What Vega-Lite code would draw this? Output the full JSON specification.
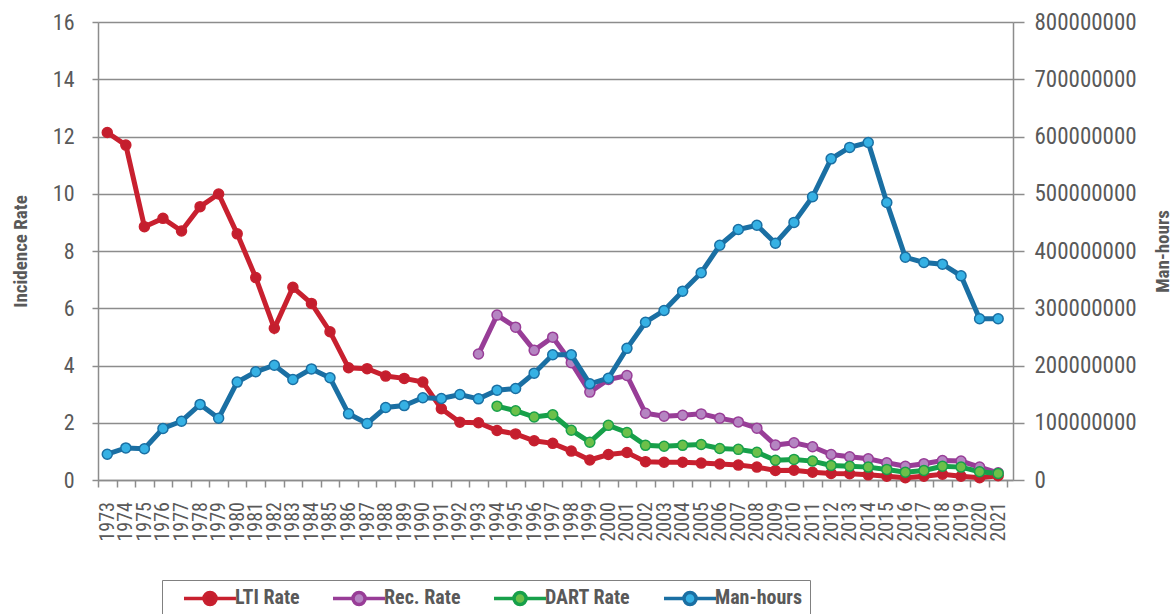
{
  "$schema": "https://vega.github.io/schema/vega-lite/v6.json",
  "width": 915,
  "height": 458,
  "autosize": {"type": "none"},
  "padding": {"left": 98, "top": 22, "right": 163, "bottom": 134},
  "background": "white",
  "config": {
    "font": "Liberation Sans Narrow, Roboto Condensed, DejaVu Sans Condensed, sans-serif",
    "view": {"stroke": null},
    "axis": {
      "labelFont": "Liberation Sans Narrow, Roboto Condensed, DejaVu Sans Condensed, sans-serif",
      "titleFont": "Liberation Sans Narrow, Roboto Condensed, DejaVu Sans Condensed, sans-serif",
      "labelColor": "#595959",
      "titleColor": "#595959",
      "domainColor": "#8c8c8c",
      "domainWidth": 1.5,
      "tickColor": "#8c8c8c",
      "tickWidth": 1.5,
      "gridColor": "#8c8c8c",
      "gridWidth": 1.5,
      "labelFlush": false,
      "labelOverlap": false
    }
  },
  "datasets": {
    "rates": [
      {"year": 1973, "series": "LTI Rate", "value": 12.14},
      {"year": 1974, "series": "LTI Rate", "value": 11.7},
      {"year": 1975, "series": "LTI Rate", "value": 8.85},
      {"year": 1976, "series": "LTI Rate", "value": 9.14},
      {"year": 1977, "series": "LTI Rate", "value": 8.7},
      {"year": 1978, "series": "LTI Rate", "value": 9.55},
      {"year": 1979, "series": "LTI Rate", "value": 9.99},
      {"year": 1980, "series": "LTI Rate", "value": 8.6},
      {"year": 1981, "series": "LTI Rate", "value": 7.07},
      {"year": 1982, "series": "LTI Rate", "value": 5.3},
      {"year": 1983, "series": "LTI Rate", "value": 6.73},
      {"year": 1984, "series": "LTI Rate", "value": 6.17},
      {"year": 1985, "series": "LTI Rate", "value": 5.18},
      {"year": 1986, "series": "LTI Rate", "value": 3.92},
      {"year": 1987, "series": "LTI Rate", "value": 3.89},
      {"year": 1988, "series": "LTI Rate", "value": 3.63},
      {"year": 1989, "series": "LTI Rate", "value": 3.55},
      {"year": 1990, "series": "LTI Rate", "value": 3.42},
      {"year": 1991, "series": "LTI Rate", "value": 2.49},
      {"year": 1992, "series": "LTI Rate", "value": 2.02},
      {"year": 1993, "series": "LTI Rate", "value": 2.0},
      {"year": 1994, "series": "LTI Rate", "value": 1.73},
      {"year": 1995, "series": "LTI Rate", "value": 1.61},
      {"year": 1996, "series": "LTI Rate", "value": 1.37},
      {"year": 1997, "series": "LTI Rate", "value": 1.28},
      {"year": 1998, "series": "LTI Rate", "value": 1.01},
      {"year": 1999, "series": "LTI Rate", "value": 0.7},
      {"year": 2000, "series": "LTI Rate", "value": 0.89},
      {"year": 2001, "series": "LTI Rate", "value": 0.96},
      {"year": 2002, "series": "LTI Rate", "value": 0.64},
      {"year": 2003, "series": "LTI Rate", "value": 0.62},
      {"year": 2004, "series": "LTI Rate", "value": 0.62},
      {"year": 2005, "series": "LTI Rate", "value": 0.59},
      {"year": 2006, "series": "LTI Rate", "value": 0.56},
      {"year": 2007, "series": "LTI Rate", "value": 0.52},
      {"year": 2008, "series": "LTI Rate", "value": 0.45},
      {"year": 2009, "series": "LTI Rate", "value": 0.33},
      {"year": 2010, "series": "LTI Rate", "value": 0.34},
      {"year": 2011, "series": "LTI Rate", "value": 0.27},
      {"year": 2012, "series": "LTI Rate", "value": 0.23},
      {"year": 2013, "series": "LTI Rate", "value": 0.22},
      {"year": 2014, "series": "LTI Rate", "value": 0.18},
      {"year": 2015, "series": "LTI Rate", "value": 0.13},
      {"year": 2016, "series": "LTI Rate", "value": 0.08},
      {"year": 2017, "series": "LTI Rate", "value": 0.13},
      {"year": 2018, "series": "LTI Rate", "value": 0.2},
      {"year": 2019, "series": "LTI Rate", "value": 0.13},
      {"year": 2020, "series": "LTI Rate", "value": 0.08},
      {"year": 2021, "series": "LTI Rate", "value": 0.15},
      {"year": 1993, "series": "Rec. Rate", "value": 4.4},
      {"year": 1994, "series": "Rec. Rate", "value": 5.76},
      {"year": 1995, "series": "Rec. Rate", "value": 5.34},
      {"year": 1996, "series": "Rec. Rate", "value": 4.53},
      {"year": 1997, "series": "Rec. Rate", "value": 4.99},
      {"year": 1998, "series": "Rec. Rate", "value": 4.1},
      {"year": 1999, "series": "Rec. Rate", "value": 3.07},
      {"year": 2000, "series": "Rec. Rate", "value": 3.51},
      {"year": 2001, "series": "Rec. Rate", "value": 3.65},
      {"year": 2002, "series": "Rec. Rate", "value": 2.33},
      {"year": 2003, "series": "Rec. Rate", "value": 2.23},
      {"year": 2004, "series": "Rec. Rate", "value": 2.26},
      {"year": 2005, "series": "Rec. Rate", "value": 2.31},
      {"year": 2006, "series": "Rec. Rate", "value": 2.16},
      {"year": 2007, "series": "Rec. Rate", "value": 2.03},
      {"year": 2008, "series": "Rec. Rate", "value": 1.81},
      {"year": 2009, "series": "Rec. Rate", "value": 1.22},
      {"year": 2010, "series": "Rec. Rate", "value": 1.3},
      {"year": 2011, "series": "Rec. Rate", "value": 1.16},
      {"year": 2012, "series": "Rec. Rate", "value": 0.89},
      {"year": 2013, "series": "Rec. Rate", "value": 0.81},
      {"year": 2014, "series": "Rec. Rate", "value": 0.74},
      {"year": 2015, "series": "Rec. Rate", "value": 0.6},
      {"year": 2016, "series": "Rec. Rate", "value": 0.48},
      {"year": 2017, "series": "Rec. Rate", "value": 0.57},
      {"year": 2018, "series": "Rec. Rate", "value": 0.68},
      {"year": 2019, "series": "Rec. Rate", "value": 0.66},
      {"year": 2020, "series": "Rec. Rate", "value": 0.45},
      {"year": 2021, "series": "Rec. Rate", "value": 0.25},
      {"year": 1994, "series": "DART Rate", "value": 2.58},
      {"year": 1995, "series": "DART Rate", "value": 2.42},
      {"year": 1996, "series": "DART Rate", "value": 2.2},
      {"year": 1997, "series": "DART Rate", "value": 2.28},
      {"year": 1998, "series": "DART Rate", "value": 1.74},
      {"year": 1999, "series": "DART Rate", "value": 1.32},
      {"year": 2000, "series": "DART Rate", "value": 1.91},
      {"year": 2001, "series": "DART Rate", "value": 1.66},
      {"year": 2002, "series": "DART Rate", "value": 1.21},
      {"year": 2003, "series": "DART Rate", "value": 1.18},
      {"year": 2004, "series": "DART Rate", "value": 1.21},
      {"year": 2005, "series": "DART Rate", "value": 1.24},
      {"year": 2006, "series": "DART Rate", "value": 1.1},
      {"year": 2007, "series": "DART Rate", "value": 1.07},
      {"year": 2008, "series": "DART Rate", "value": 0.97},
      {"year": 2009, "series": "DART Rate", "value": 0.69},
      {"year": 2010, "series": "DART Rate", "value": 0.72},
      {"year": 2011, "series": "DART Rate", "value": 0.66},
      {"year": 2012, "series": "DART Rate", "value": 0.51},
      {"year": 2013, "series": "DART Rate", "value": 0.48},
      {"year": 2014, "series": "DART Rate", "value": 0.45},
      {"year": 2015, "series": "DART Rate", "value": 0.37},
      {"year": 2016, "series": "DART Rate", "value": 0.27},
      {"year": 2017, "series": "DART Rate", "value": 0.33},
      {"year": 2018, "series": "DART Rate", "value": 0.48},
      {"year": 2019, "series": "DART Rate", "value": 0.45},
      {"year": 2020, "series": "DART Rate", "value": 0.29},
      {"year": 2021, "series": "DART Rate", "value": 0.23}
    ],
    "hours": [
      {"year": 1973, "series": "Man-hours", "value": 45000000},
      {"year": 1974, "series": "Man-hours", "value": 56000000},
      {"year": 1975, "series": "Man-hours", "value": 54500000},
      {"year": 1976, "series": "Man-hours", "value": 90000000},
      {"year": 1977, "series": "Man-hours", "value": 102700000},
      {"year": 1978, "series": "Man-hours", "value": 132000000},
      {"year": 1979, "series": "Man-hours", "value": 108000000},
      {"year": 1980, "series": "Man-hours", "value": 171000000},
      {"year": 1981, "series": "Man-hours", "value": 189000000},
      {"year": 1982, "series": "Man-hours", "value": 200500000},
      {"year": 1983, "series": "Man-hours", "value": 175500000},
      {"year": 1984, "series": "Man-hours", "value": 194000000},
      {"year": 1985, "series": "Man-hours", "value": 178500000},
      {"year": 1986, "series": "Man-hours", "value": 115600000},
      {"year": 1987, "series": "Man-hours", "value": 98700000},
      {"year": 1988, "series": "Man-hours", "value": 126600000},
      {"year": 1989, "series": "Man-hours", "value": 130000000},
      {"year": 1990, "series": "Man-hours", "value": 143600000},
      {"year": 1991, "series": "Man-hours", "value": 142300000},
      {"year": 1992, "series": "Man-hours", "value": 149300000},
      {"year": 1993, "series": "Man-hours", "value": 141800000},
      {"year": 1994, "series": "Man-hours", "value": 156900000},
      {"year": 1995, "series": "Man-hours", "value": 159800000},
      {"year": 1996, "series": "Man-hours", "value": 186600000},
      {"year": 1997, "series": "Man-hours", "value": 218700000},
      {"year": 1998, "series": "Man-hours", "value": 218700000},
      {"year": 1999, "series": "Man-hours", "value": 168000000},
      {"year": 2000, "series": "Man-hours", "value": 177800000},
      {"year": 2001, "series": "Man-hours", "value": 230000000},
      {"year": 2002, "series": "Man-hours", "value": 275600000},
      {"year": 2003, "series": "Man-hours", "value": 296000000},
      {"year": 2004, "series": "Man-hours", "value": 329800000},
      {"year": 2005, "series": "Man-hours", "value": 362000000},
      {"year": 2006, "series": "Man-hours", "value": 410000000},
      {"year": 2007, "series": "Man-hours", "value": 437500000},
      {"year": 2008, "series": "Man-hours", "value": 445000000},
      {"year": 2009, "series": "Man-hours", "value": 413600000},
      {"year": 2010, "series": "Man-hours", "value": 450000000},
      {"year": 2011, "series": "Man-hours", "value": 494700000},
      {"year": 2012, "series": "Man-hours", "value": 561000000},
      {"year": 2013, "series": "Man-hours", "value": 581000000},
      {"year": 2014, "series": "Man-hours", "value": 589500000},
      {"year": 2015, "series": "Man-hours", "value": 484700000},
      {"year": 2016, "series": "Man-hours", "value": 389000000},
      {"year": 2017, "series": "Man-hours", "value": 380000000},
      {"year": 2018, "series": "Man-hours", "value": 377000000},
      {"year": 2019, "series": "Man-hours", "value": 356700000},
      {"year": 2020, "series": "Man-hours", "value": 281600000},
      {"year": 2021, "series": "Man-hours", "value": 281600000}
    ]
  },
  "layer": [
    {
      "data": {"name": "rates"},
      "encoding": {
        "x": {
          "field": "year", "type": "ordinal",
          "scale": {"type": "band", "paddingInner": 0, "paddingOuter": 0.15, "align": 0},
          "axis": {"title": null, "tickBand": "extent", "labelAngle": 270, "labelAlign": "left", "labelBaseline": "middle", "labelPadding": 54, "tickSize": 7, "labelFontSize": 20}
        },
        "y": {
          "field": "value", "type": "quantitative",
          "scale": {"domain": [0, 16], "nice": false},
          "axis": {"title": "Incidence Rate", "values": [0, 2, 4, 6, 8, 10, 12, 14, 16], "grid": true, "tickSize": 6, "labelPadding": 18, "labelFontSize": 22, "titleFontSize": 19, "titleFontWeight": "bold", "titlePadding": 22}
        },
        "stroke": {
          "field": "series", "type": "nominal",
          "scale": {"domain": ["LTI Rate", "Rec. Rate", "DART Rate", "Man-hours"], "range": ["#c8202f", "#983d97", "#17a04a", "#1a6fa3"]},
          "legend": {
            "orient": "none", "legendX": 64, "legendY": 558, "direction": "horizontal", "title": null,
            "strokeColor": "#808080", "padding": 8, "columnPadding": 19,
            "labelFont": "Liberation Sans Narrow, Roboto Condensed, DejaVu Sans Condensed, sans-serif",
            "labelFontSize": 20, "labelFontWeight": "bold", "labelColor": "#595959", "labelOffset": 45,
            "symbolType": "M0.57,0L3.43,0M5.15,0L8,0M5.15,0A0.86,0.86 0 1,1 3.43,0A0.86,0.86 0 1,1 5.15,0Z",
            "symbolSize": 196, "symbolStrokeWidth": 3.5,
            "encode": {"symbols": {"update": {"fill": {"scale": "fill", "field": "value"}, "stroke": {"scale": "stroke", "field": "value"}, "opacity": {"value": 1}}}}
          }
        }
      },
      "layer": [
        {"mark": {"type": "line", "strokeWidth": 5}},
        {
          "mark": {"type": "point", "filled": true, "size": 100, "strokeWidth": 1.5, "opacity": 1},
          "encoding": {
            "fill": {"field": "series", "type": "nominal", "scale": {"domain": ["LTI Rate", "Rec. Rate", "DART Rate", "Man-hours"], "range": ["#c41e2e", "#b585c2", "#6cc04a", "#36b1e4"]}, "legend": null}
          }
        }
      ]
    },
    {
      "data": {"name": "hours"},
      "encoding": {
        "x": {
          "field": "year", "type": "ordinal",
          "scale": {"type": "band", "paddingInner": 0, "paddingOuter": 0.15, "align": 0}
        },
        "y": {
          "field": "value", "type": "quantitative",
          "scale": {"domain": [0, 800000000], "nice": false},
          "axis": {"orient": "right", "title": "Man-hours", "values": [0, 100000000, 200000000, 300000000, 400000000, 500000000, 600000000, 700000000, 800000000], "format": "d", "grid": false, "tickSize": 11, "labelPadding": 10, "labelFontSize": 23, "titleFontSize": 19, "titleFontWeight": "bold", "titleAngle": 270, "titlePadding": 36}
        },
        "stroke": {"field": "series", "type": "nominal"}
      },
      "layer": [
        {"mark": {"type": "line", "strokeWidth": 5}},
        {
          "mark": {"type": "point", "filled": true, "size": 100, "strokeWidth": 1.5, "opacity": 1},
          "encoding": {
            "fill": {"field": "series", "type": "nominal", "legend": null}
          }
        }
      ]
    }
  ],
  "resolve": {"scale": {"y": "independent"}}
}
